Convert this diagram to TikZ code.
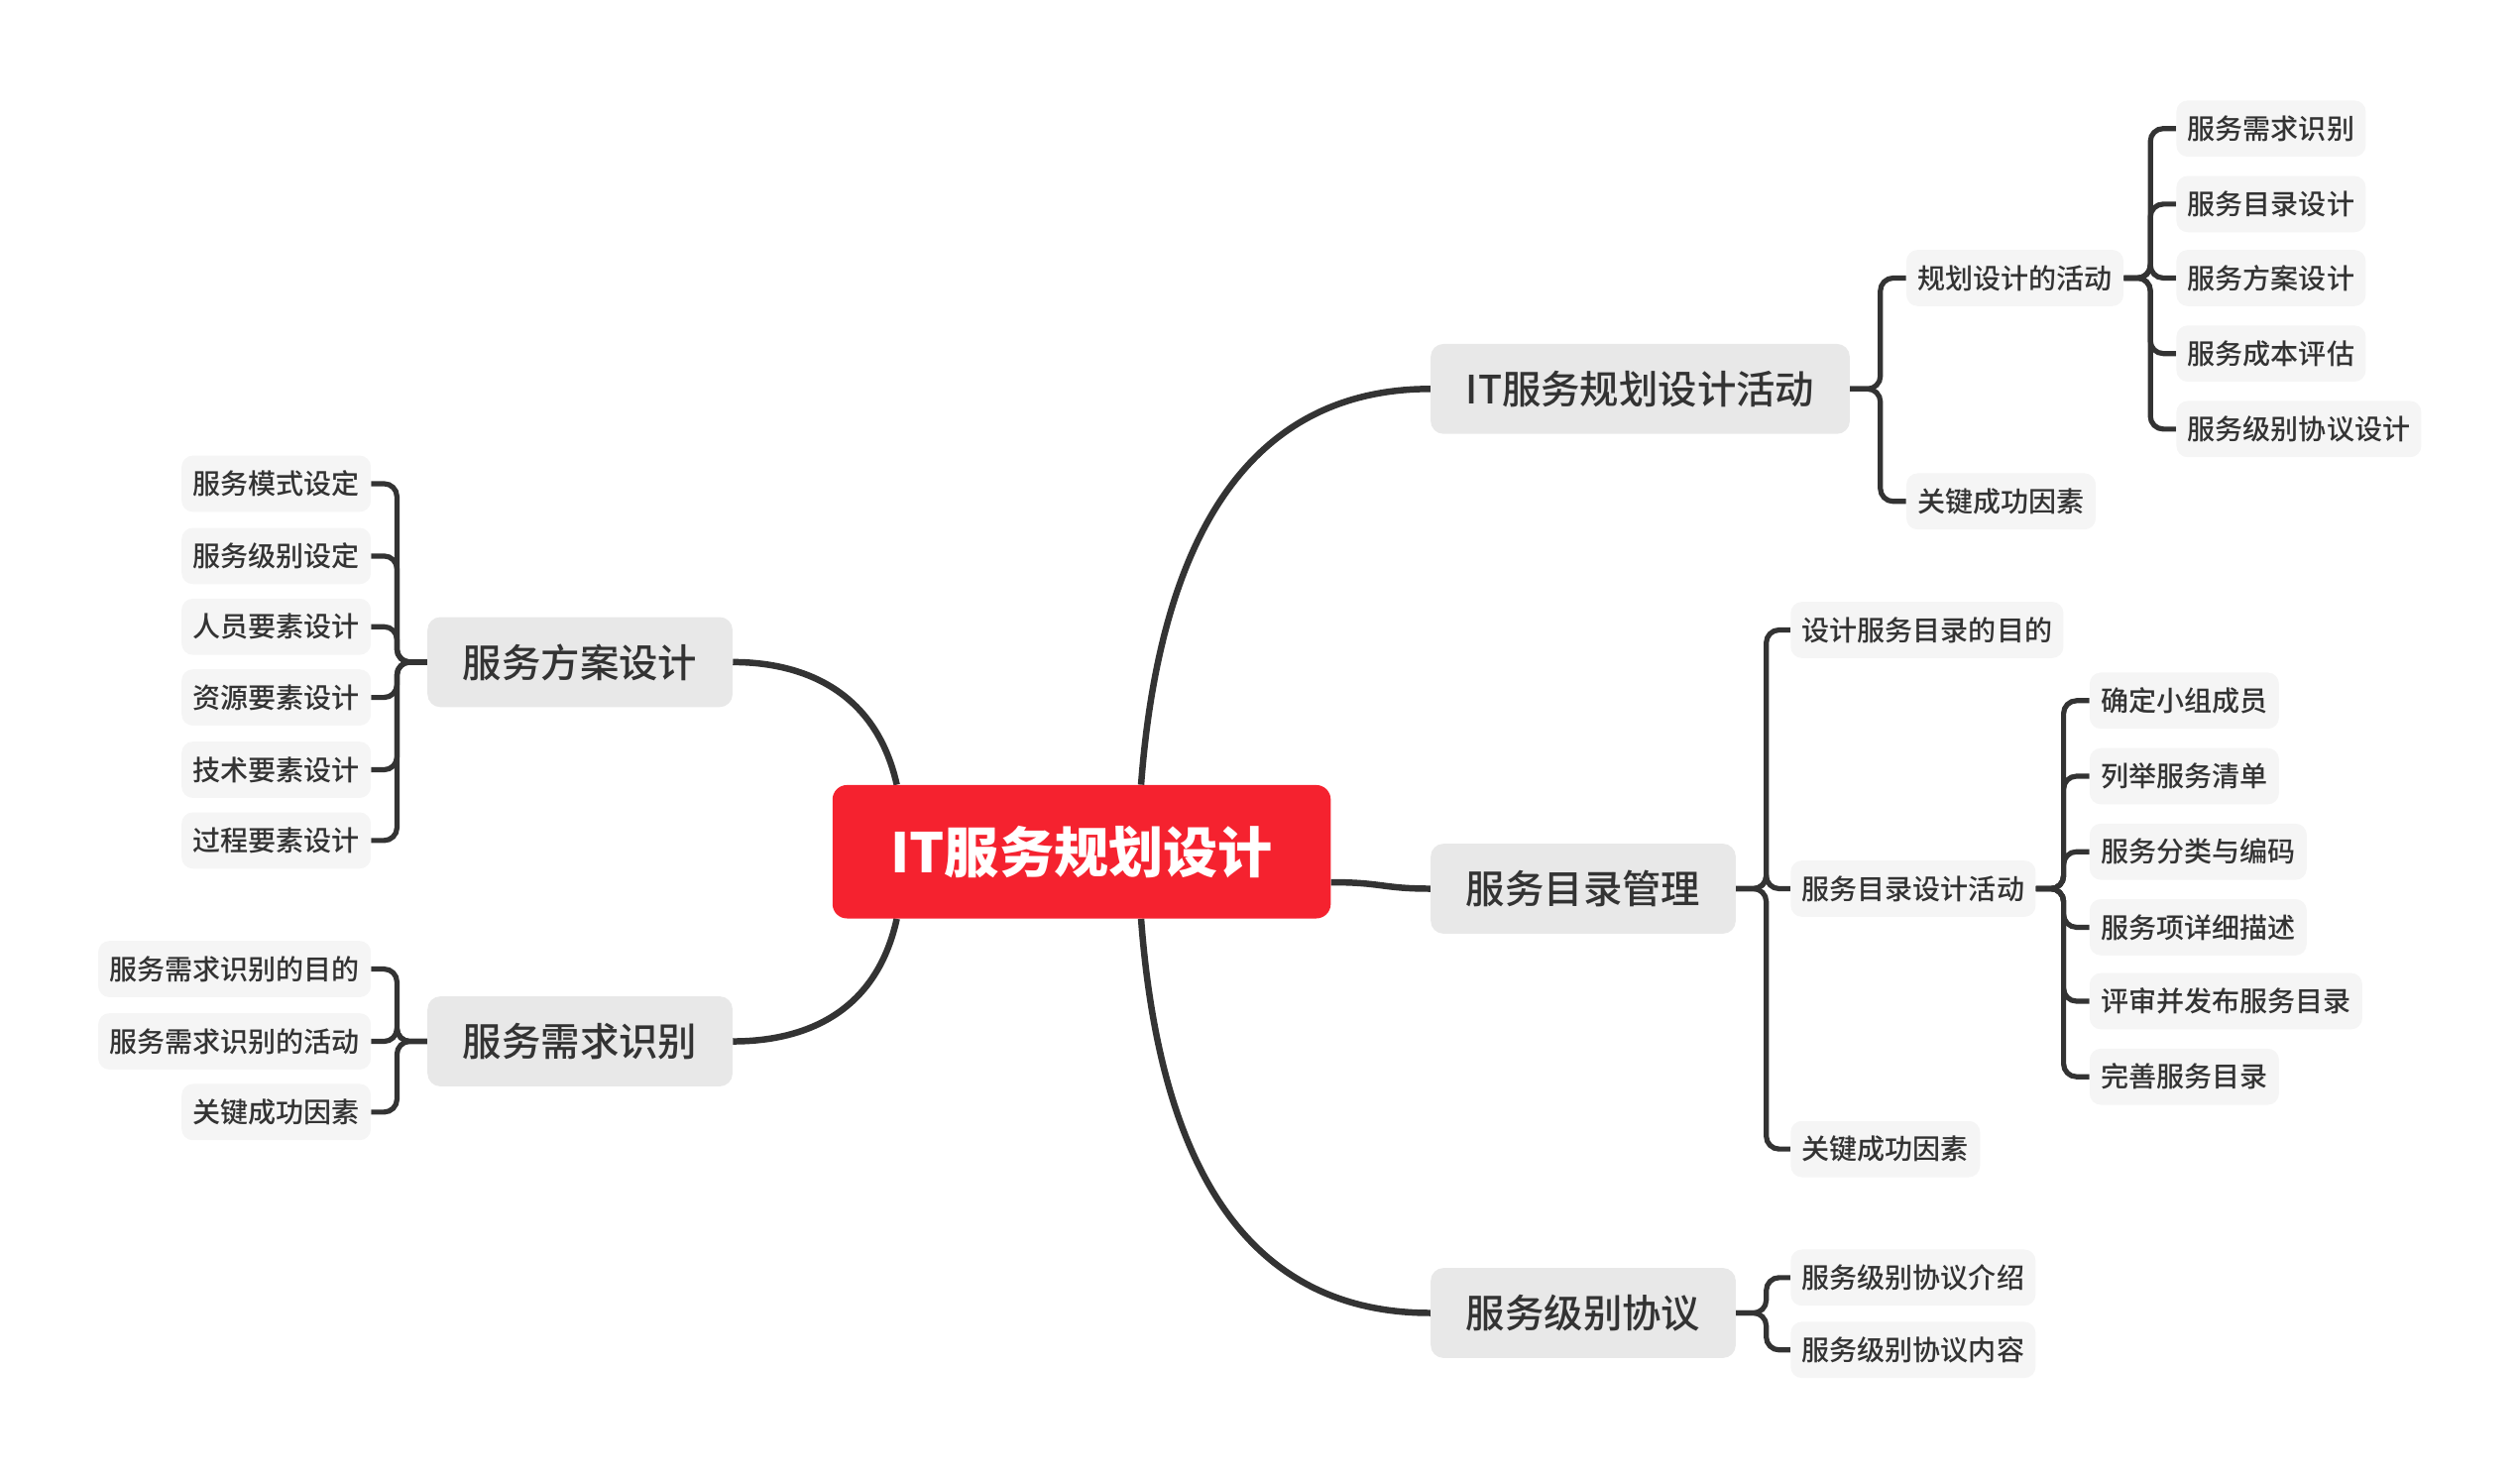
\documentclass[tikz,border=0pt]{standalone}
\usepackage{fontspec}
\setmainfont{Noto Sans CJK SC}
\newfontfamily\medfont{Noto Sans CJK SC Medium}
\usetikzlibrary{calc}
\definecolor{lineC}{HTML}{333333}
\definecolor{textC}{HTML}{333333}
\definecolor{leafC}{HTML}{F5F5F5}
\definecolor{topicC}{HTML}{E8E8E8}
\definecolor{rootC}{HTML}{F5222F}
\pgfdeclarelayer{background}
\pgfsetlayers{background,main}
\begin{document}
\begin{tikzpicture}[x=1pt,y=-1pt,
  leaf/.style={fill=leafC, rounded corners=7pt, inner xsep=7pt, inner ysep=0pt, minimum height=35pt, text=textC, font=\medfont\fontsize{17.3}{20}\selectfont},
  topic/.style={fill=topicC, rounded corners=8pt, inner xsep=22pt, inner ysep=0pt, minimum height=56pt, text=textC, font=\medfont\fontsize{24.3}{28}\selectfont},
  root/.style={fill=rootC, rounded corners=9pt, inner xsep=36pt, inner ysep=0pt, minimum height=83pt, minimum width=310pt, text=white, font=\bfseries\fontsize{34}{40}\selectfont},
  br/.style={draw=lineC, line width=3.2pt, rounded corners=8pt},
  mainline/.style={draw=lineC, line width=4pt}]
\useasboundingbox (0,0) rectangle (1568,920);

% root
\node[root] (c) at (673,530) {IT服务规划设计};

% right topics
\node[topic, anchor=west] (t1) at (890,242) {IT服务规划设计活动};
\node[topic, anchor=west] (t2) at (890,553) {服务目录管理};
\node[topic, anchor=west] (t3) at (890,817) {服务级别协议};

% left topics
\node[topic, anchor=east] (l1) at (456,412) {服务方案设计};
\node[topic, anchor=east] (l2) at (456,648) {服务需求识别};

% t1 children
\node[leaf, anchor=west] (t1a) at (1186,173) {规划设计的活动};
\node[leaf, anchor=west] (t1b) at (1186,312) {关键成功因素};
\node[leaf, anchor=west] (t1a1) at (1354,80) {服务需求识别};
\node[leaf, anchor=west] (t1a2) at (1354,127) {服务目录设计};
\node[leaf, anchor=west] (t1a3) at (1354,173) {服务方案设计};
\node[leaf, anchor=west] (t1a4) at (1354,220) {服务成本评估};
\node[leaf, anchor=west] (t1a5) at (1354,267) {服务级别协议设计};

% t2 children
\node[leaf, anchor=west] (t2a) at (1114,392) {设计服务目录的目的};
\node[leaf, anchor=west] (t2b) at (1114,553) {服务目录设计活动};
\node[leaf, anchor=west] (t2c) at (1114,715) {关键成功因素};
\node[leaf, anchor=west] (t2b1) at (1300,436) {确定小组成员};
\node[leaf, anchor=west] (t2b2) at (1300,483) {列举服务清单};
\node[leaf, anchor=west] (t2b3) at (1300,530) {服务分类与编码};
\node[leaf, anchor=west] (t2b4) at (1300,577) {服务项详细描述};
\node[leaf, anchor=west] (t2b5) at (1300,623) {评审并发布服务目录};
\node[leaf, anchor=west] (t2b6) at (1300,670) {完善服务目录};

% t3 children
\node[leaf, anchor=west] (t3a) at (1114,795) {服务级别协议介绍};
\node[leaf, anchor=west] (t3b) at (1114,840) {服务级别协议内容};

% l1 children
\node[leaf, anchor=east] (l1a) at (231,301) {服务模式设定};
\node[leaf, anchor=east] (l1b) at (231,346) {服务级别设定};
\node[leaf, anchor=east] (l1c) at (231,390) {人员要素设计};
\node[leaf, anchor=east] (l1d) at (231,434) {资源要素设计};
\node[leaf, anchor=east] (l1e) at (231,479) {技术要素设计};
\node[leaf, anchor=east] (l1f) at (231,523) {过程要素设计};

% l2 children
\node[leaf, anchor=east] (l2a) at (231,603) {服务需求识别的目的};
\node[leaf, anchor=east] (l2b) at (231,648) {服务需求识别的活动};
\node[leaf, anchor=east] (l2c) at (231,692) {关键成功因素};

% bracket x positions
\coordinate (bt1) at (1170,0);
\coordinate (bt1a) at (1338,0);
\coordinate (bt2) at (1099,0);
\coordinate (bt2b) at (1284,0);
\coordinate (bt3) at (1099,0);
\coordinate (bl) at (247,0);

\begin{pgfonlayer}{background}
% main curves
\draw[mainline] ([xshift=37pt]c.north) .. controls (722,330) and (780,242) .. (t1.west);
\draw[mainline] ([yshift=-19pt]c.east) .. controls (860,549) and (860,553) .. (t2.west);
\draw[mainline] ([xshift=37pt]c.south) .. controls (722,732) and (780,817) .. (t3.west);
\draw[mainline] ([xshift=-115pt]c.north) .. controls (545,430) and (500,412) .. (l1.east);
\draw[mainline] ([xshift=-115pt]c.south) .. controls (545,631) and (500,648) .. (l2.east);

% right brackets
\foreach \ch in {t1a,t1b}
  \draw[br] (t1.east) -- (t1.east -| bt1) -- (\ch.west -| bt1) -- (\ch.west);
\foreach \ch in {t1a1,t1a2,t1a3,t1a4,t1a5}
  \draw[br] (t1a.east) -- (t1a.east -| bt1a) -- (\ch.west -| bt1a) -- (\ch.west);
\foreach \ch in {t2a,t2b,t2c}
  \draw[br] (t2.east) -- (t2.east -| bt2) -- (\ch.west -| bt2) -- (\ch.west);
\foreach \ch in {t2b1,t2b2,t2b3,t2b4,t2b5,t2b6}
  \draw[br] (t2b.east) -- (t2b.east -| bt2b) -- (\ch.west -| bt2b) -- (\ch.west);
\foreach \ch in {t3a,t3b}
  \draw[br] (t3.east) -- (t3.east -| bt3) -- (\ch.west -| bt3) -- (\ch.west);

% left brackets
\foreach \ch in {l1a,l1b,l1c,l1d,l1e,l1f}
  \draw[br] (l1.west) -- (l1.west -| bl) -- (\ch.east -| bl) -- (\ch.east);
\foreach \ch in {l2a,l2b,l2c}
  \draw[br] (l2.west) -- (l2.west -| bl) -- (\ch.east -| bl) -- (\ch.east);
\end{pgfonlayer}
\end{tikzpicture}
\end{document}
